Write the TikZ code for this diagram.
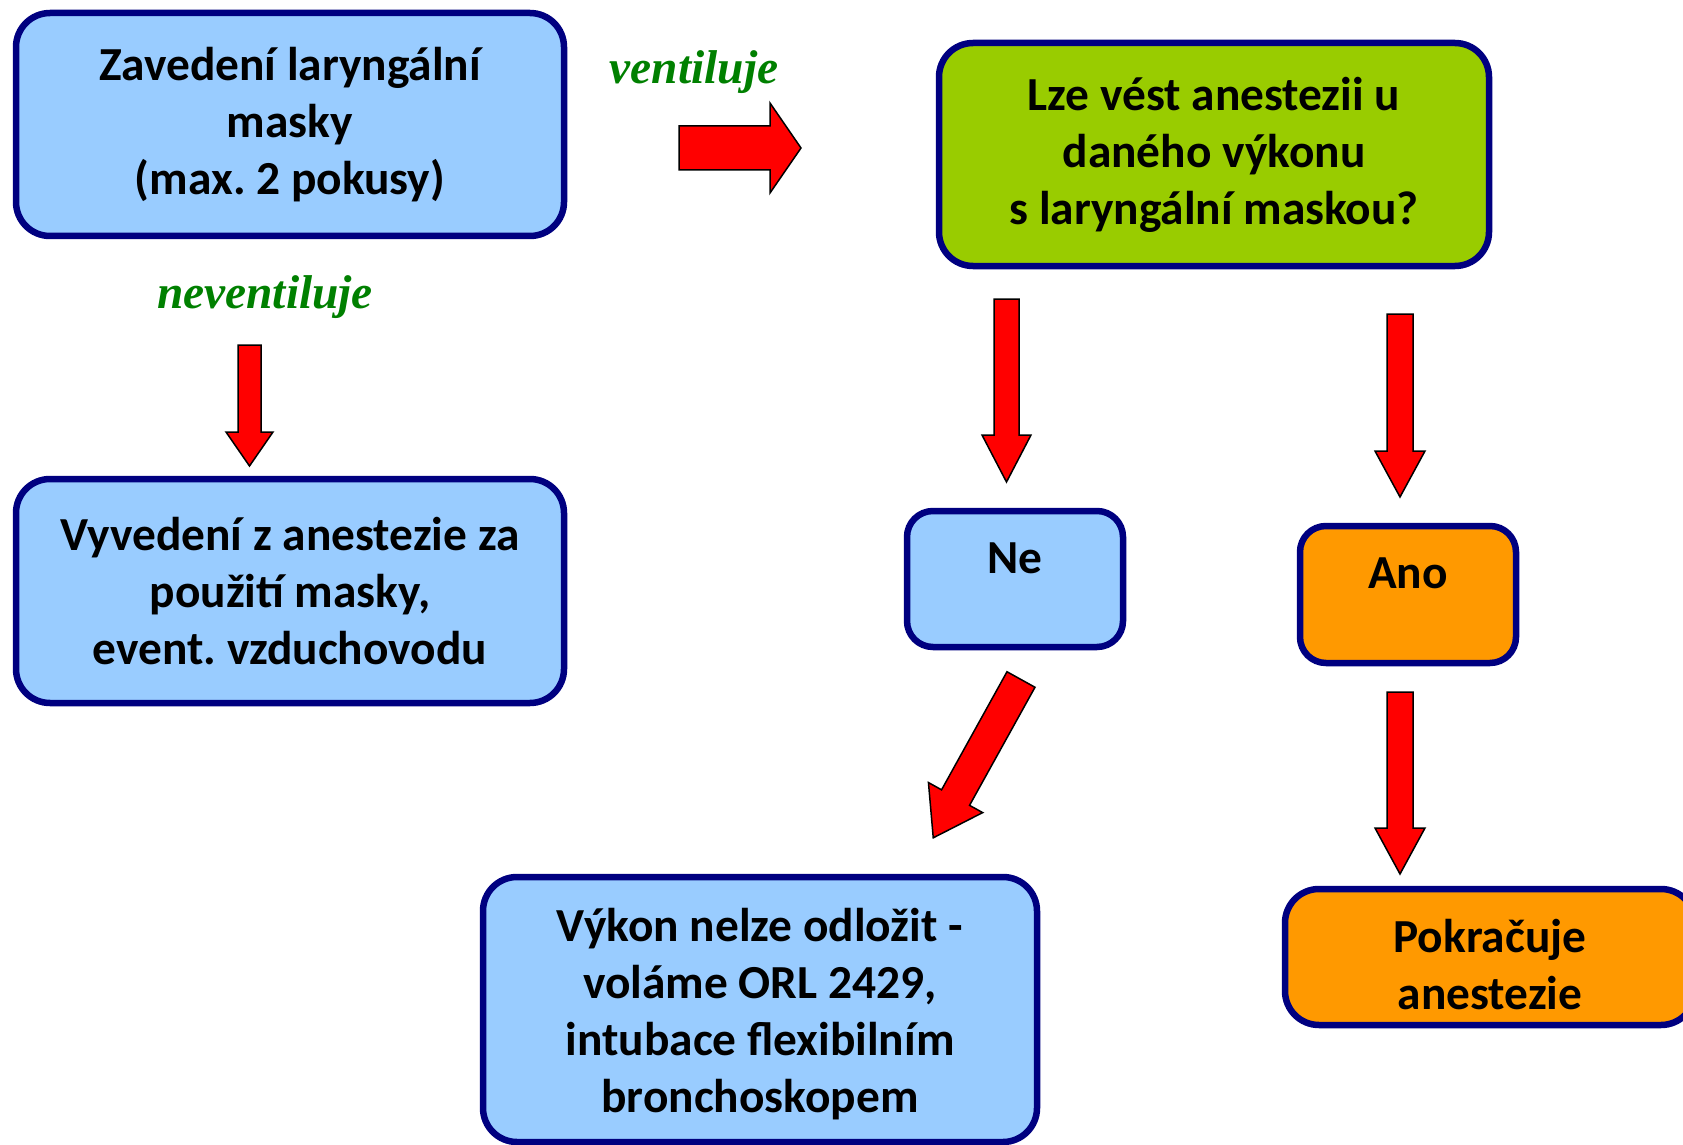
\documentclass[tikz,border=0pt]{standalone}
\usepackage{fontspec}
\setmainfont{Carlito}
\newfontfamily\labelfont{Liberation Serif}
\frenchspacing
\definecolor{boxblue}{HTML}{99CCFF}
\definecolor{boxgreen}{HTML}{99CC00}
\definecolor{boxorange}{HTML}{FF9900}
\definecolor{navyline}{HTML}{000080}
\definecolor{lblgreen}{HTML}{008000}
\begin{document}
\begin{tikzpicture}[x=0.5pt,y=-0.5pt,
  box/.style={draw=navyline, line width=3.25pt, rounded corners=17pt,
    font=\bfseries\fontsize{23.7}{28.5}\selectfont, align=center, inner sep=0pt},
  smallbox/.style={box, rounded corners=13pt, minimum width=108pt},
  lbl/.style={font=\labelfont\bfseries\itshape\fontsize{23.7}{28}\selectfont, text=lblgreen, anchor=base},
  blockarrow/.style={fill=red, draw=black, line width=0.75pt, line join=miter},
  pics/bigarrow/.style n args={4}{code={
    \path[blockarrow] (0,-#2) -- ({#1-#4},-#2) -- ({#1-#4},-#3) -- (#1,0)
      -- ({#1-#4},#3) -- ({#1-#4},#2) -- (0,#2) -- cycle;}}
]
\path[use as bounding box] (0,0) rectangle (1683,1145);
\clip (0,0) rectangle (1683,1145);
\fill[white] (0,0) rectangle (1683,1145);

% boxes
\node[box, fill=boxblue, minimum width=274pt, minimum height=111.5pt] (zav) at (290,124.5)
  {Zavedení laryngální\\masky\\(max. 2 pokusy)};
\node[box, fill=boxblue, minimum width=274pt, minimum height=112pt] (vyv) at (290,591)
  {Vyvedení z anestezie za\\použití masky,\\event. vzduchovodu};
\node[box, fill=boxgreen, minimum width=275pt, minimum height=111.5pt] (lze) at (1214,154.5)
  {Lze vést anestezii u\\daného výkonu\\s laryngální maskou?};
\node[smallbox, fill=boxblue, text height=31pt, text depth=37pt, anchor=base] (ne) at (1015,573) {Ne};
\node[smallbox, fill=boxorange, text height=31pt, text depth=37.5pt, anchor=base] (ano) at (1408,588) {Ano};
\node[box, fill=boxblue, minimum width=277pt, text height=117.5pt, text depth=15pt, anchor=base] (vyk) at (760,1112)
  {Výkon nelze odložit -\\voláme ORL 2429,\\intubace flexibilním\\bronchoskopem};
\node[box, fill=boxorange, minimum width=205pt, text height=60pt, text depth=8pt, anchor=base] (pok) at (1490,1009)
  {Pokračuje\\anestezie};

% labels
\node[lbl] (lv) at (694,84) {ventiluje};
\node[lbl] (ln) at (265,308) {neventiluje};

% block arrows
\pic (a1) at (679,148) {bigarrow={122}{22}{45}{31}};
\pic[rotate=-90] (a2) at (249.5,345) {bigarrow={121}{11.5}{23.5}{34}};
\pic[rotate=-90] (a3) at (1006.5,299) {bigarrow={183}{12.5}{24.5}{47}};
\pic[rotate=-90] (a4) at (1400,314) {bigarrow={183}{13}{25}{46}};
\pic[rotate=-90] (a5) at (1400,692) {bigarrow={182}{13}{25}{46}};
\pic[rotate=-119] (a6) at (1021,679.5) {bigarrow={181}{16}{31}{46}};
\end{tikzpicture}
\end{document}
